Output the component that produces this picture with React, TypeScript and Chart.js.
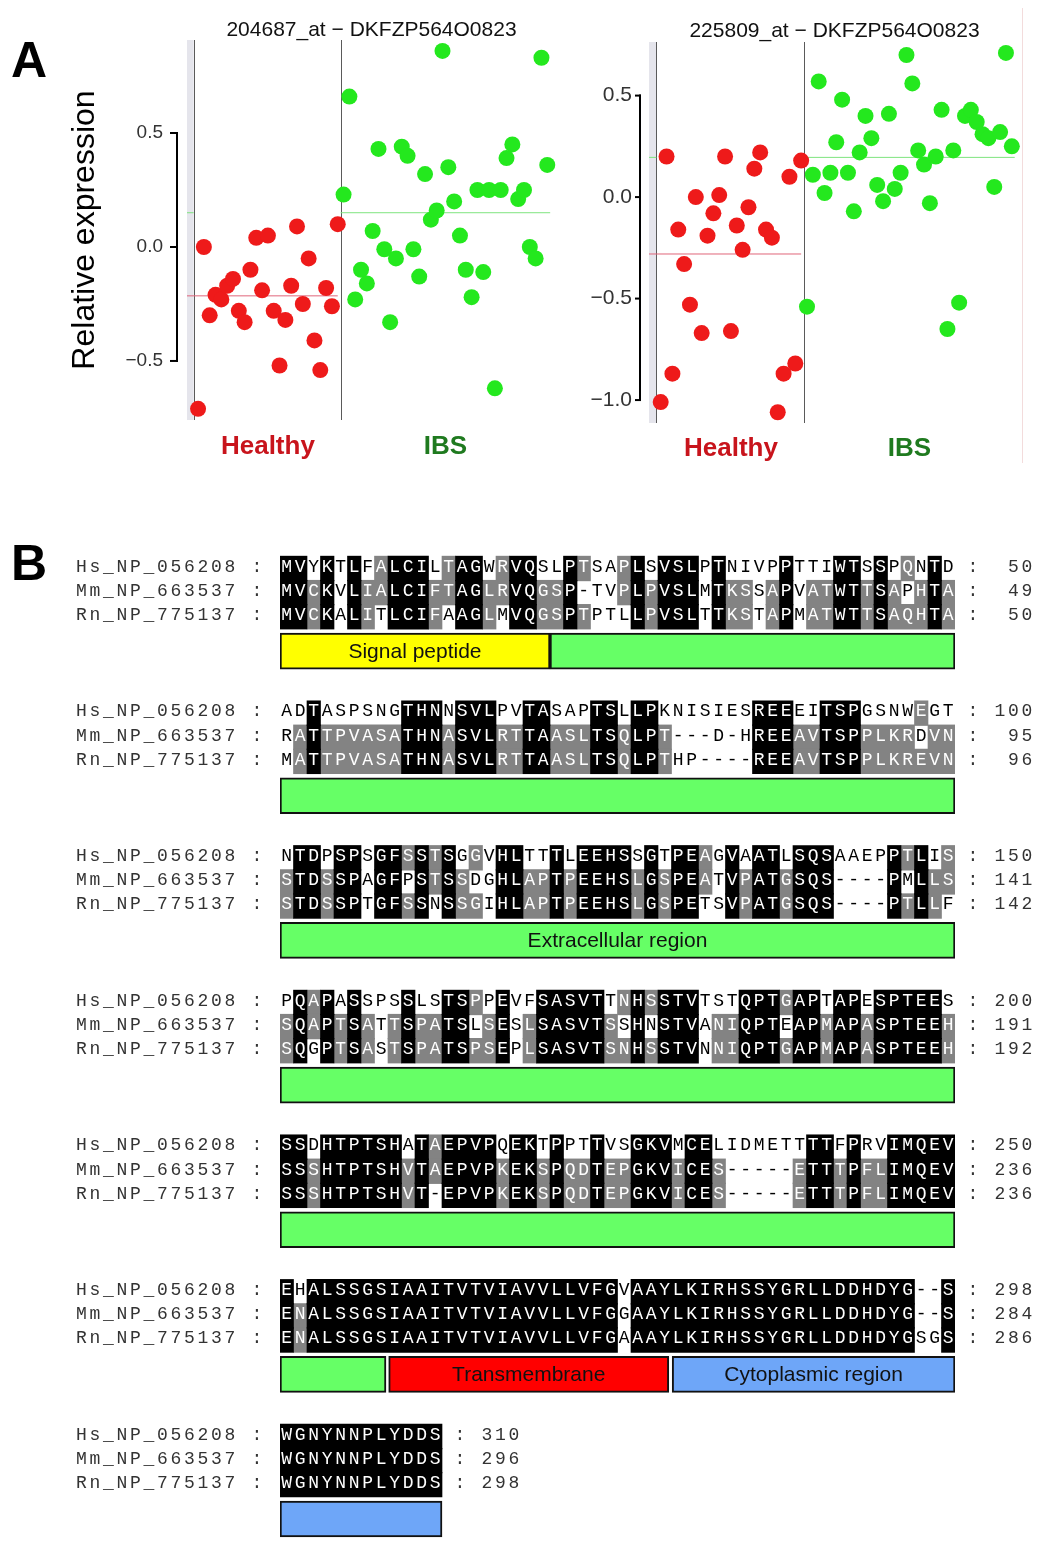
import React, { useEffect, useRef } from "react";
import { Chart, registerables } from "chart.js";

Chart.register(...registerables);

const SANS = '"Liberation Sans", Arial, Helvetica, sans-serif';
const MONO = '"Liberation Mono", "DejaVu Sans Mono", monospace';
Chart.defaults.font.family = SANS;

// ---------------- Panel A data ----------------
const groupLabels = ["Healthy", "IBS"];
const probeTitles = ["204687_at \u2212 DKFZP564O0823", "225809_at \u2212 DKFZP564O0823"];
const yAxisTitle = "Relative expression";

const healthy204687 = [-0.71, 0.0, -0.3, -0.21, -0.23, -0.17, -0.14, -0.28, -0.33, -0.1, 0.04, -0.19, 0.05, -0.28, -0.52, -0.32, -0.17, 0.09, -0.25, -0.05, -0.41, -0.54, -0.18, -0.26, 0.1];
const ibs204687 = [0.23, 0.66, -0.23, -0.1, -0.16, 0.07, 0.43, -0.01, -0.33, -0.05, 0.44, 0.4, -0.01, -0.13, 0.32, 0.12, 0.16, 0.86, 0.35, 0.2, 0.05, -0.1, -0.22, 0.25, -0.11, 0.25, -0.62, 0.25, 0.39, 0.45, 0.21, 0.25, 0.0, -0.05, 0.83, 0.36];
const healthy225809 = [-1.01, 0.2, -0.87, -0.16, -0.33, -0.53, 0.0, -0.67, -0.19, -0.08, 0.01, 0.2, -0.66, -0.14, -0.26, -0.05, 0.14, 0.22, -0.16, -0.2, -1.06, -0.87, 0.1, -0.82, 0.18];
const ibs225809 = [-0.54, 0.11, 0.57, 0.02, 0.12, 0.27, 0.48, 0.12, -0.07, 0.22, 0.4, 0.29, 0.06, -0.02, 0.41, 0.04, 0.12, 0.7, 0.56, 0.23, 0.16, -0.03, 0.2, 0.43, -0.65, 0.23, -0.52, 0.4, 0.43, 0.37, 0.31, 0.29, 0.05, 0.32, 0.71, 0.25];
const yTicks204687 = [-0.5, 0, 0.5];
const yTicks225809 = [-1.0, -0.5, 0, 0.5];

// ---------------- Panel B data ----------------
const seqNames = ["Hs_NP_056208", "Mm_NP_663537", "Rn_NP_775137"];
const hsSeq = [
  "MVYKTLFALCILTAGWRVQSLPTSAPLSVSLPTNIVPPTTIWTSSPQNTD",
  "ADTASPSNGTHNNSVLPVTASAPTSLLPKNISIESREEEITSPGSNWEGT",
  "NTDPSPSGFSSTSGGVHLTTTLEEHSSGTPEAGVAATLSQSAAEPPTLIS",
  "PQAPASSPSSLSTSPPEVFSASVTTNHSSTVTSTQPTGAPTAPESPTEES",
  "SSDHTPTSHATAEPVPQEKTPPTTVSGKVMCELIDMETTTTFPRVIMQEV",
  "EHALSSGSIAAITVTVIAVVLLVFGVAAYLKIRHSSYGRLLDDHDYG--S",
  "WGNYNNPLYDDS",
];
const mmSeq = [
  "MVCKVLIALCIFTAGLRVQGSP-TVPLPVSLMTKSSAPVATWTTSAPHTA",
  "RATTPVASATHNASVLRTTAASLTSQLPT---D-HREEAVTSPPLKRDVN",
  "STDSSPAGFPSTSSDGHLAPTPEEHSLGSPEATVPATGSQS----PMLLS",
  "SQAPTSATTSPATSLSESLSASVTSSHNSTVANIQPTEAPMAPASPTEEH",
  "SSSHTPTSHVTAEPVPKEKSPQDTEPGKVICES-----ETTTPFLIMQEV",
  "ENALSSGSIAAITVTVIAVVLLVFGGAAYLKIRHSSYGRLLDDHDYG--S",
  "WGNYNNPLYDDS",
];
const rnSeq = [
  "MVCKALITLCIFAAGLMVQGSPTPTLLPVSLTTKSTAPMATWTTSAQHTA",
  "MATTPVASATHNASVLRTTAASLTSQLPTHP----REEAVTSPPLKREVN",
  "STDSSPTGFSSNSSGIHLAPTPEEHSLGSPETSVPATGSQS----PTLLF",
  "SQGPTSASTSPATSPSEPLSASVTSNHSSTVNNIQPTGAPMAPASPTEEH",
  "SSSHTPTSHVT-EPVPKEKSPQDTEPGKVICES-----ETTTPFLIMQEV",
  "ENALSSGSIAAITVTVIAVVLLVFGAAAYLKIRHSSYGRLLDDHDYGSGS",
  "WGNYNNPLYDDS",
];
const hsEnds = [50, 100, 150, 200, 250, 298, 310];
const mmEnds = [49, 95, 141, 191, 236, 284, 296];
const rnEnds = [50, 96, 142, 192, 236, 286, 298];

const featureBlock = [0, 0, 1, 2, 3, 4, 5, 5, 5, 6];
const featureStart = [0, 20, 0, 0, 0, 0, 0, 8.05, 29.05, 0];
const featureEnd = [20, 50, 50, 50, 50, 50, 7.85, 28.8, 50, 12];
const featureKind = ["signal", "extra", "extra", "extra", "extra", "extra", "extra", "tm", "cyto", "cyto"];
const featureText = ["Signal peptide", "", "", "Extracellular region", "", "", "", "Transmembrane", "Cytoplasmic region", ""];

// ---------------- styles ----------------
const RED_PT = "#ee1a1a";
const GREEN_PT = "#24e81e";
const RED_LBL = "#c8141c";
const GREEN_LBL = "#1f7a1f";
const featureColors: Record<string, string> = {
  signal: "#ffff00",
  extra: "#66ff66",
  tm: "#ff0000",
  cyto: "#6ea6f8",
};

type Spec = {
  left: number; top: number; width: number; height: number;
  title: string; healthy: number[]; ibs: number[]; yTicks: number[];
  area: { left: number; right: number; top: number; bottom: number };
  xMin: number; xMax: number; yMin: number; yMax: number;
  tickFont: number; tickPad: number; axisGap: number; tickLen: number;
  yTitle: string; yTitlePad: number; xLabelPad: number; titleShift: number;
};

const leftSpec: Spec = {
  left: 60, top: 0, width: 510, height: 480,
  title: probeTitles[0], healthy: healthy204687, ibs: ibs204687, yTicks: yTicks204687,
  area: { left: 127, right: 496, top: 40, bottom: 420 },
  xMin: -1.9, xMax: 61.5, yMin: -0.759, yMax: 0.908,
  tickFont: 19, tickPad: 24, axisGap: 10, tickLen: 7,
  yTitle: yAxisTitle, yTitlePad: 6, xLabelPad: 11, titleShift: 3,
};
const rightSpec: Spec = {
  left: 560, top: 0, width: 480, height: 480,
  title: probeTitles[1], healthy: healthy225809, ibs: ibs225809, yTicks: yTicks225809,
  area: { left: 89, right: 460, top: 42, bottom: 423 },
  xMin: -2.0, xMax: 61.4, yMin: -1.113, yMax: 0.764,
  tickFont: 21, tickPad: 17, axisGap: 9, tickLen: 5,
  yTitle: "", yTitlePad: 0, xLabelPad: 10, titleShift: 2,
};

const mean = (a: number[]) => a.reduce((s, v) => s + v, 0) / a.length;
const fmtTick = (v: number) => (v < 0 ? "\u2212" : "") + Math.abs(v).toFixed(1);

function buildScatterConfig(s: Spec): any {
  const nH = s.healthy.length;
  const nI = s.ibs.length;
  const sepX = nH - 0.5;
  const leftLineX = -0.75;
  const mH = mean(s.healthy);
  const mI = mean(s.ibs);
  const centers = [(nH - 1) / 2, nH + (nI - 1) / 2];
  const TITLE_SIZE = 21;

  const frame = {
    id: "frame",
    beforeDatasetsDraw(chart: any) {
      const { ctx, chartArea, scales } = chart;
      const { left, top, bottom } = chartArea;
      const x = scales.x;
      const y = scales.y;
      ctx.save();
      const lx = x.getPixelForValue(leftLineX);
      ctx.fillStyle = "#e5e5ec";
      ctx.fillRect(left, top, lx - left, bottom - top);
      ctx.strokeStyle = "#5a5a5a";
      ctx.lineWidth = 1;
      [leftLineX, sepX].forEach((v) => {
        const px = Math.round(x.getPixelForValue(v)) + 0.5;
        ctx.beginPath();
        ctx.moveTo(px, top);
        ctx.lineTo(px, bottom);
        ctx.stroke();
      });
      // R-style axis line from first to last tick
      const ax = left - s.axisGap;
      const y0 = y.getPixelForValue(s.yTicks[0]);
      const y1 = y.getPixelForValue(s.yTicks[s.yTicks.length - 1]);
      ctx.strokeStyle = "#000";
      ctx.lineWidth = 2;
      ctx.beginPath();
      ctx.moveTo(ax, y0 + 1);
      ctx.lineTo(ax, y1 - 1);
      ctx.stroke();
      s.yTicks.forEach((t) => {
        const py = y.getPixelForValue(t);
        ctx.beginPath();
        ctx.moveTo(ax + 1, py);
        ctx.lineTo(ax - s.tickLen, py);
        ctx.stroke();
      });
      ctx.restore();
    },
  };

  return {
    type: "scatter",
    data: {
      datasets: [
        {
          type: "line",
          data: [{ x: s.xMin, y: mH }, { x: nH - 1, y: mH }],
          borderColor: "#e0667a",
          borderWidth: 1,
          pointRadius: 0,
          order: 2,
        },
        {
          type: "line",
          data: [
            { x: s.xMin, y: mI },
            { x: leftLineX, y: mI },
            { x: leftLineX + 0.01, y: null },
            { x: sepX, y: mI },
            { x: nH + nI - 0.5, y: mI },
          ],
          spanGaps: false,
          borderColor: "#7fe47f",
          borderWidth: 1,
          pointRadius: 0,
          order: 2,
        },
        {
          data: s.healthy.map((v, i) => ({ x: i, y: v })),
          backgroundColor: RED_PT,
          borderWidth: 0,
          pointRadius: 8,
          pointHoverRadius: 8,
          order: 1,
        },
        {
          data: s.ibs.map((v, i) => ({ x: nH + i, y: v })),
          backgroundColor: GREEN_PT,
          borderWidth: 0,
          pointRadius: 8,
          pointHoverRadius: 8,
          order: 1,
        },
      ],
    },
    options: {
      responsive: false,
      animation: false,
      devicePixelRatio: 1,
      clip: false,
      events: [],
      layout: { padding: { left: 0, right: s.width - s.area.right, top: 0, bottom: 0 } },
      plugins: {
        legend: { display: false },
        tooltip: { enabled: false },
        title: {
          display: true,
          text: s.title,
          fullSize: false,
          color: "#111",
          font: { family: SANS, size: TITLE_SIZE, weight: "normal" },
          padding: { top: s.area.top - TITLE_SIZE * 1.2 + s.titleShift, bottom: -s.titleShift },
        },
      },
      scales: {
        x: {
          type: "linear",
          min: s.xMin,
          max: s.xMax,
          offset: false,
          grid: { display: false, drawTicks: false },
          border: { display: false },
          afterBuildTicks: (sc: any) => {
            sc.ticks = centers.map((v) => ({ value: v }));
          },
          afterFit: (sc: any) => {
            sc.height = s.height - s.area.bottom;
            sc.paddingLeft = 0;
            sc.paddingRight = 0;
          },
          ticks: {
            autoSkip: false,
            maxRotation: 0,
            padding: s.xLabelPad,
            font: { family: SANS, size: 26, weight: "bold" },
            color: (ctx: any) => (ctx.index === 0 ? RED_LBL : GREEN_LBL),
            callback: (_v: any, i: number) => groupLabels[i],
          },
        },
        y: {
          type: "linear",
          min: s.yMin,
          max: s.yMax,
          grid: { display: false, drawTicks: false },
          border: { display: false },
          afterBuildTicks: (sc: any) => {
            sc.ticks = s.yTicks.map((v) => ({ value: v }));
          },
          afterFit: (sc: any) => {
            sc.width = s.area.left;
            sc.paddingTop = 0;
            sc.paddingBottom = 0;
          },
          ticks: {
            autoSkip: false,
            padding: s.tickPad,
            color: "#333",
            font: { family: SANS, size: s.tickFont },
            callback: (v: any) => fmtTick(Number(v)),
          },
          title: {
            display: !!s.yTitle,
            text: s.yTitle,
            color: "#000",
            font: { family: SANS, size: 32 },
            padding: { top: s.yTitlePad, bottom: 0 },
          },
        },
      },
    },
    plugins: [frame],
  };
}

// ---------------- Panel B helpers ----------------
const B_TOP = 530;
const B_W = 1050;
const B_H = 1024;
const ROW0_Y = 38.5;
const UNIT = 24.11;
const BLOCK_ROWS = 6;
const BAR_CENTER = 3.425;
const BAR_PX = 36;
const NAME_LEFT = 76;
const SEQ_LEFT = 280;
const SEQ_RIGHT = 955;

const allSeqs = [hsSeq, mmSeq, rnSeq];
const allEnds = [hsEnds, mmEnds, rnEnds];

function shadeBlock(b: number): number[][] {
  const rows = allSeqs.map((s) => s[b]);
  const len = rows[0].length;
  const out = rows.map(() => new Array(len).fill(0));
  for (let c = 0; c < len; c++) {
    const col = rows.map((r) => r[c]);
    if (col.every((ch) => ch !== "-" && ch === col[0])) {
      out.forEach((o) => (o[c] = 2));
      continue;
    }
    col.forEach((ch, i) => {
      if (ch === "-") return;
      const cnt = col.filter((o) => o === ch).length;
      if (cnt >= 2) out[i][c] = 1;
    });
  }
  return out;
}

function buildAlignmentConfig(): any {
  const nBlocks = hsSeq.length;
  const shades = Array.from({ length: nBlocks }, (_, b) => shadeBlock(b));
  const blackCells: any[] = [];
  const grayCells: any[] = [];
  const rowValues: number[] = [];
  for (let b = 0; b < nBlocks; b++) {
    for (let r = 0; r < 3; r++) {
      const yv = b * BLOCK_ROWS + r;
      rowValues.push(yv);
      const sh = shades[b][r];
      let c = 0;
      while (c < sh.length) {
        const v = sh[c];
        if (v === 0) { c++; continue; }
        let e = c;
        while (e < sh.length && sh[e] === v) e++;
        (v === 2 ? blackCells : grayCells).push({ x: [c, e], y: yv });
        c = e;
      }
    }
  }
  const features = featureBlock.map((b, i) => ({ x: [featureStart[i], featureEnd[i]], y: b * BLOCK_ROWS + BAR_CENTER }));

  const textPlugin = {
    id: "alignText",
    beforeDraw(chart: any) {
      chart.ctx.letterSpacing = "2.7px";
    },
    afterDatasetsDraw(chart: any) {
      const { ctx, scales } = chart;
      const x = scales.x;
      const y = scales.y;
      ctx.save();
      ctx.letterSpacing = "0px";
      ctx.textAlign = "center";
      ctx.textBaseline = "middle";
      ctx.font = `18px ${MONO}`;
      for (let b = 0; b < nBlocks; b++) {
        for (let r = 0; r < 3; r++) {
          const seq = allSeqs[r][b];
          const py = y.getPixelForValue(b * BLOCK_ROWS + r) - 1.5;
          for (let c = 0; c < seq.length; c++) {
            ctx.fillStyle = shades[b][r][c] === 0 ? "#000" : "#fff";
            ctx.fillText(seq[c], x.getPixelForValue(c + 0.5), py);
          }
          const tail = ": " + String(allEnds[r][b]).padStart(3, " ");
          ctx.fillStyle = "#333";
          for (let k = 0; k < tail.length; k++) {
            if (tail[k] === " ") continue;
            ctx.fillText(tail[k], x.getPixelForValue(seq.length + 1.33 + k), py);
          }
        }
      }
      ctx.font = `21px ${SANS}`;
      ctx.fillStyle = "#111";
      featureText.forEach((t, i) => {
        if (!t) return;
        const cx = x.getPixelForValue((featureStart[i] + featureEnd[i]) / 2);
        const cy = y.getPixelForValue(featureBlock[i] * BLOCK_ROWS + BAR_CENTER) + 1;
        ctx.fillText(t, cx, cy);
      });
      ctx.restore();
    },
  };

  return {
    type: "bar",
    data: {
      datasets: [
        { label: "identical", data: blackCells, backgroundColor: "#000", borderWidth: 0, grouped: false, barThickness: UNIT + 0.6 },
        { label: "similar", data: grayCells, backgroundColor: "#838383", borderWidth: 0, grouped: false, barThickness: UNIT + 0.6 },
        {
          label: "features",
          data: features,
          backgroundColor: featureKind.map((k) => featureColors[k]),
          borderColor: "#111",
          borderWidth: 2,
          borderSkipped: false,
          grouped: false,
          barThickness: BAR_PX,
        },
      ],
    },
    options: {
      indexAxis: "y",
      responsive: false,
      animation: false,
      devicePixelRatio: 1,
      events: [],
      layout: { padding: { left: NAME_LEFT, right: B_W - SEQ_RIGHT, top: 0, bottom: 0 } },
      plugins: { legend: { display: false }, tooltip: { enabled: false }, title: { display: false } },
      scales: {
        x: { type: "linear", min: 0, max: 50, display: false, offset: false, grid: { display: false } },
        y: {
          type: "linear",
          min: -ROW0_Y / UNIT,
          max: (B_H - ROW0_Y) / UNIT,
          reverse: true,
          offset: false,
          grid: { display: false, drawTicks: false, offset: false },
          border: { display: false },
          afterBuildTicks: (sc: any) => {
            sc.ticks = rowValues.map((v) => ({ value: v }));
          },
          afterFit: (sc: any) => {
            sc.width = SEQ_LEFT - NAME_LEFT;
            sc.paddingTop = 0;
            sc.paddingBottom = 0;
          },
          ticks: {
            autoSkip: false,
            crossAlign: "far",
            labelOffset: -1.5,
            color: "#333",
            font: { family: MONO, size: 18 },
            callback: (_v: any, i: number) => seqNames[i % 3] + " :",
          },
        },
      },
    },
    plugins: [textPlugin],
  };
}

function ChartBox(props: { left: number; top: number; width: number; height: number; make: () => any }) {
  const ref = useRef<HTMLCanvasElement>(null);
  useEffect(() => {
    if (!ref.current) return;
    const chart = new Chart(ref.current, props.make());
    return () => chart.destroy();
  }, []);
  return (
    <div style={{ position: "absolute", left: props.left, top: props.top, width: props.width, height: props.height }}>
      <canvas ref={ref} width={props.width} height={props.height} style={{ display: "block", width: props.width, height: props.height }} />
    </div>
  );
}

const panelLetter = (left: number, top: number): React.CSSProperties => ({
  position: "absolute",
  left,
  top,
  font: `bold 50px ${SANS}`,
  lineHeight: "50px",
  color: "#000",
});

export default function App() {
  return (
    <div style={{ position: "absolute", left: 0, top: 0, width: 1050, height: 1554, background: "#fff", overflow: "hidden" }}>
      <div style={panelLetter(11, 35)}>A</div>
      <ChartBox left={leftSpec.left} top={leftSpec.top} width={leftSpec.width} height={leftSpec.height} make={() => buildScatterConfig(leftSpec)} />
      <ChartBox left={rightSpec.left} top={rightSpec.top} width={rightSpec.width} height={rightSpec.height} make={() => buildScatterConfig(rightSpec)} />
      <div style={{ position: "absolute", left: 1022, top: 8, width: 1, height: 455, background: "#f3dcdc" }} />
      <div style={panelLetter(11, 538)}>B</div>
      <ChartBox left={0} top={B_TOP} width={B_W} height={B_H} make={buildAlignmentConfig} />
    </div>
  );
}
